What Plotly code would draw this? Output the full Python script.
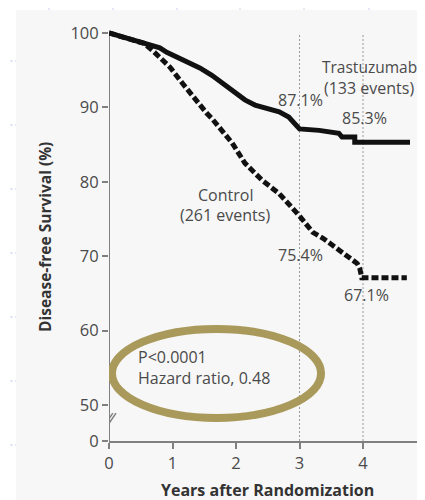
import plotly.graph_objects as go

# ---- data ----
trast_years = [0, 0.38, 0.65, 0.80, 0.91, 1.17, 1.43, 1.62, 1.94, 2.14, 2.30, 2.68, 2.83, 3.0,
               3.31, 3.62, 3.67, 3.87, 3.87, 4.74]
trast_dfs = [100, 99.1, 98.4, 98.0, 97.4, 96.4, 95.3, 94.3, 92.3, 91.0, 90.3, 89.4, 88.7, 87.1,
             86.9, 86.5, 86.0, 86.0, 85.3, 85.3]

control_years = [0, 0.38, 0.55, 0.69, 0.96, 1.15, 1.32, 1.54, 1.62, 1.94, 2.14, 2.41, 2.68, 2.93,
                 3.0, 3.21, 3.37, 3.53, 3.69, 3.83, 3.91, 3.95, 3.98, 4.69]
control_dfs = [100, 99.1, 98.6, 97.6, 95.4, 93.3, 91.4, 89.2, 88.5, 85.2, 82.5, 80.2, 78.4, 76.1,
               75.4, 73.2, 72.4, 71.4, 70.4, 69.4, 69.0, 68.3, 67.1, 67.1]

x_ticks = [0, 1, 2, 3, 4]
y_tick_vals = [45.15, 50, 60, 70, 80, 90, 100]
y_tick_text = ["0", "50", "60", "70", "80", "90", "100"]
marker_years = [3, 4]

FONT = "Open Sans"
TXT = "#4a4a4a"
AX = "#808080"

# the page body adds an 8px offset; plot area wanted at page x 109..425, y 26..441
L, T, PW, PH = 101, 18, 316, 415

fig = go.Figure()

fig.add_trace(go.Scatter(x=trast_years, y=trast_dfs, mode="lines",
                         line=dict(color="#111111", width=5), name="Trastuzumab",
                         showlegend=False, hoverinfo="skip"))
fig.add_trace(go.Scatter(x=control_years, y=control_dfs, mode="lines",
                         line=dict(color="#111111", width=5, dash="7px,3px"), name="Control",
                         showlegend=False, hoverinfo="skip"))

def xp(page_x):
    return (page_x - 109) / PW

def yp(page_y):
    return (441 - page_y) / PH

shapes = []
# grey panel background
shapes.append(dict(type="rect", xref="paper", yref="paper", x0=xp(16), x1=xp(440), y0=yp(520), y1=yp(10),
                   fillcolor="#f7f7f7", line=dict(width=0), layer="below"))
# light-blue dashed template artefacts
for py in [61, 125, 189, 253, 317, 381, 445]:
    shapes.append(dict(type="line", xref="paper", yref="paper", x0=xp(0), x1=xp(16), y0=yp(py), y1=yp(py),
                       line=dict(color="#c9d3ee", width=1, dash="3px,2px"), layer="below"))
for px in [49, 113, 177, 240, 304, 369]:
    shapes.append(dict(type="line", xref="paper", yref="paper", x0=xp(px), x1=xp(px), y0=yp(10), y1=yp(0),
                       line=dict(color="#c9d3ee", width=1, dash="3px,2px"), layer="below"))
# y axis line
shapes.append(dict(type="line", xref="x", yref="y", x0=0, x1=0, y0=45.15, y1=100,
                   line=dict(color=AX, width=2), layer="below"))
# vertical reference lines at 3 and 4 years
for yr in marker_years:
    shapes.append(dict(type="line", xref="x", yref="y", x0=yr, x1=yr, y0=45.15, y1=100,
                       line=dict(color="#9a9a9a", width=1, dash="2px,2px"), layer="below"))
# axis break marks
for dx in [0, 0.05]:
    shapes.append(dict(type="line", xref="x", yref="y", x0=-0.13 + dx, x1=0.06 + dx, y0=46.5, y1=48.9,
                       line=dict(color=AX, width=1.5)))
# ellipse
shapes.append(dict(type="circle", xref="x", yref="y", x0=0.047, x1=3.339, y0=48.25, y1=60.22,
                   line=dict(color="#a99a5b", width=8)))

ann = []
def txt(x, y, s, xanchor="center", size=16):
    ann.append(dict(x=x, y=y, xref="x", yref="y", text=s, showarrow=False, xanchor=xanchor,
                    yanchor="middle", font=dict(family=FONT, size=size, color=TXT)))

txt(4.1, 95.43, "Trastuzumab", size=15.5)
txt(4.1, 92.6, "(133 events)")
txt(3.02, 91.0, "87.1%")
txt(4.02, 88.6, "85.3%")
txt(1.83, 78.2, "Control")
txt(1.83, 75.5, "(261 events)")
txt(3.02, 70.2, "75.4%")
txt(4.05, 64.8, "67.1%")
txt(0.425, 56.4, "P<0.0001", xanchor="left")
txt(0.425, 53.6, "Hazard ratio, 0.48", xanchor="left")
# partially visible tick label 5 (cut by the right edge, as in the reference)
ann.append(dict(x=xp(426.5), y=yp(461), xref="paper", yref="paper", text="5", showarrow=False,
                xanchor="center", yanchor="middle", font=dict(family=FONT, size=16.5, color=TXT)))
# axis titles
ann.append(dict(x=xp(45), y=yp(237), xref="paper", yref="paper", xanchor="center", yanchor="middle",
                text="<b>Disease-free Survival (%)</b>", textangle=-90, showarrow=False,
                font=dict(family=FONT, size=15.5, color="#333333")))
ann.append(dict(x=xp(267), y=yp(490), xref="paper", yref="paper", xanchor="center", yanchor="middle",
                text="<b>Years after Randomization</b>", showarrow=False,
                font=dict(family=FONT, size=16, color="#333333")))

fig.update_layout(
    width=425, height=500,
    margin=dict(l=L, r=425 - L - PW, t=T, b=500 - T - PH),
    paper_bgcolor="white", plot_bgcolor="rgba(0,0,0,0)",
    shapes=shapes, annotations=ann, showlegend=False,
    xaxis=dict(range=[0, 4.976], tickvals=x_ticks, ticks="outside", ticklen=6, tickcolor=AX,
               tickwidth=2, showline=True, linecolor=AX, linewidth=2, showgrid=False, zeroline=False,
               tickfont=dict(family=FONT, size=16.5, color=TXT)),
    yaxis=dict(range=[45.15, 100.93], tickvals=y_tick_vals, ticktext=y_tick_text, ticks="outside",
               ticklen=6, tickcolor=AX, tickwidth=2, showline=False, showgrid=False, zeroline=False,
               tickfont=dict(family=FONT, size=16.5, color=TXT)),
)

fig.write_html("out.html")
